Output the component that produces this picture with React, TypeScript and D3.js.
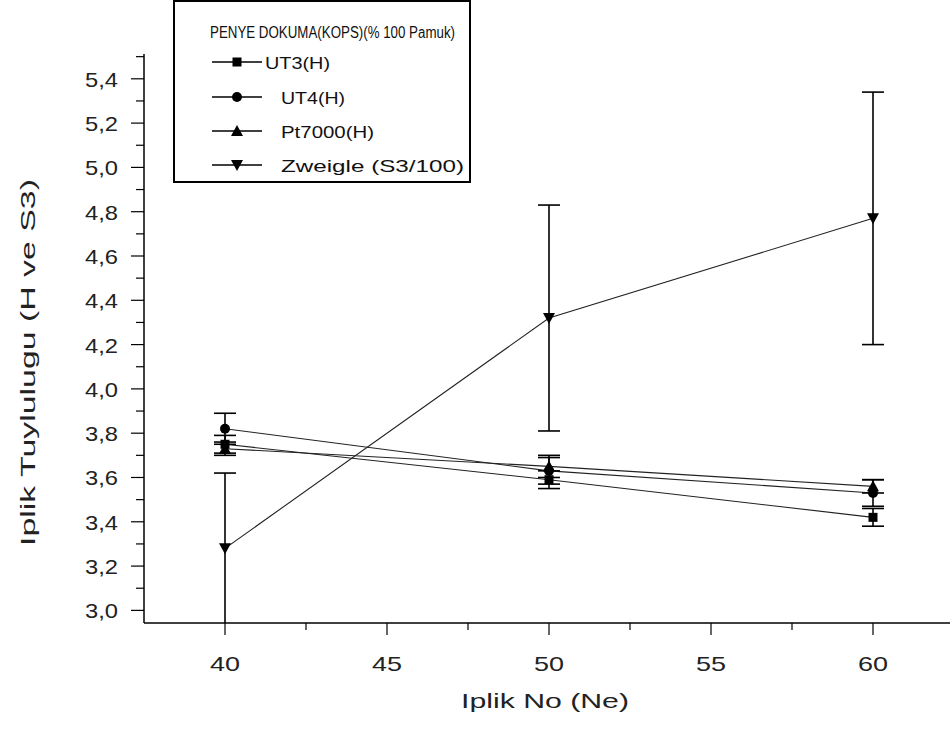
import React, { useEffect, useRef } from 'react';
import * as d3 from 'd3';

// Iplik numaralari (Ne)
const yarnCounts = [40, 50, 60];

const seriesNames = ['UT3(H)', 'UT4(H)', 'Pt7000(H)', 'Zweigle (S3/100)'];
const seriesSymbols = ['square', 'circle', 'triangle', 'triangleDown'];

// ortalama degerler
const ut3Values = [3.75, 3.59, 3.42];
const ut4Values = [3.82, 3.63, 3.53];
const pt7000Values = [3.73, 3.65, 3.56];
const zweigleValues = [3.28, 4.32, 4.77];

// hata cubuklari (+/-)
const ut3Errors = [0.04, 0.04, 0.04];
const ut4Errors = [0.07, 0.06, 0.06];
const pt7000Errors = [0.03, 0.05, 0.03];
const zweigleErrors = [0.34, 0.51, 0.57];

const xTickValues = [40, 45, 50, 55, 60];
const yTickValues = [3.0, 3.2, 3.4, 3.6, 3.8, 4.0, 4.2, 4.4, 4.6, 4.8, 5.0, 5.2, 5.4];

const legendTitle = 'PENYE DOKUMA(KOPS)(% 100 Pamuk)';
const xLabel = 'Iplik No (Ne)';
const yLabel = 'Iplik Tuylulugu (H ve S3)';

const W = 950;
const H = 729;
const FONT = 'Arial, "Liberation Sans", sans-serif';

const symbolPath = (kind: string, cx: number, cy: number) => {
  if (kind === 'square') {
    const s = 4.5;
    return `M${cx - s},${cy - s}H${cx + s}V${cy + s}H${cx - s}Z`;
  }
  if (kind === 'circle') {
    const r = 5;
    return `M${cx - r},${cy}A${r},${r} 0 1,0 ${cx + r},${cy}A${r},${r} 0 1,0 ${cx - r},${cy}Z`;
  }
  if (kind === 'triangle') {
    return `M${cx},${cy - 6}L${cx + 6},${cy + 5}L${cx - 6},${cy + 5}Z`;
  }
  return `M${cx},${cy + 6}L${cx + 6},${cy - 5}L${cx - 6},${cy - 5}Z`;
};

const App: React.FC = () => {
  const ref = useRef<SVGSVGElement>(null);

  useEffect(() => {
    const svg = d3.select(ref.current);
    svg.selectAll('*').remove();

    const x = d3.scaleLinear().domain([37.5, 62.5]).range([144, 954]);
    const y = d3.scaleLinear().domain([2.943, 5.512]).range([623, 54]);

    const fmt = (v: number) => v.toFixed(1).replace('.', ',');

    // eksenler
    const axisColor = '#000';
    svg.append('line')
      .attr('x1', x(37.5)).attr('x2', W)
      .attr('y1', y(2.943)).attr('y2', y(2.943))
      .attr('stroke', axisColor).attr('stroke-width', 1.5);
    svg.append('line')
      .attr('x1', x(37.5)).attr('x2', x(37.5))
      .attr('y1', y(2.943)).attr('y2', y(5.512))
      .attr('stroke', axisColor).attr('stroke-width', 1.5);

    // y tikleri
    const yMinor = d3.range(31, 56, 2).map(v => v / 10);
    svg.selectAll('.ymin').data(yMinor).enter().append('line')
      .attr('x1', x(37.5) - 8).attr('x2', x(37.5))
      .attr('y1', d => y(d)).attr('y2', d => y(d))
      .attr('stroke', axisColor).attr('stroke-width', 1.2);
    svg.selectAll('.ymaj').data(yTickValues).enter().append('line')
      .attr('x1', x(37.5) - 13).attr('x2', x(37.5))
      .attr('y1', d => y(d)).attr('y2', d => y(d))
      .attr('stroke', axisColor).attr('stroke-width', 1.2);
    svg.selectAll('.ylab').data(yTickValues).enter().append('text')
      .attr('x', 85).attr('y', d => y(d) + 8)
      .attr('textLength', 33).attr('lengthAdjust', 'spacingAndGlyphs')
      .style('font-family', FONT).style('font-size', '21px').attr('fill', '#222')
      .text(d => fmt(d));

    // x tikleri
    const xMinor = [42.5, 47.5, 52.5, 57.5];
    svg.selectAll('.xmin').data(xMinor).enter().append('line')
      .attr('x1', d => x(d)).attr('x2', d => x(d))
      .attr('y1', y(2.943)).attr('y2', y(2.943) + 7)
      .attr('stroke', axisColor).attr('stroke-width', 1.2);
    svg.selectAll('.xmaj').data(xTickValues).enter().append('line')
      .attr('x1', d => x(d)).attr('x2', d => x(d))
      .attr('y1', y(2.943)).attr('y2', y(2.943) + 12)
      .attr('stroke', axisColor).attr('stroke-width', 1.2);
    svg.selectAll('.xlab').data(xTickValues).enter().append('text')
      .attr('x', d => x(d) - 15).attr('y', 671)
      .attr('textLength', 30).attr('lengthAdjust', 'spacingAndGlyphs')
      .style('font-family', FONT).style('font-size', '21px').attr('fill', '#222')
      .text(d => String(d));

    // eksen basliklari
    svg.append('text')
      .attr('x', 461).attr('y', 708)
      .attr('textLength', 168).attr('lengthAdjust', 'spacingAndGlyphs')
      .style('font-family', FONT).style('font-size', '21px')
      .attr('fill', '#222')
      .text(xLabel);
    svg.append('text')
      .attr('transform', `translate(35, 546) rotate(-90)`)
      .attr('textLength', 367).attr('lengthAdjust', 'spacingAndGlyphs')
      .style('font-family', FONT).style('font-size', '21px').attr('fill', '#222')
      .text(yLabel);

    const values = [ut3Values, ut4Values, pt7000Values, zweigleValues];
    const errors = [ut3Errors, ut4Errors, pt7000Errors, zweigleErrors];

    const line = d3.line<number>()
      .x((_, i) => x(yarnCounts[i]))
      .y(d => y(d));

    // cizgiler
    values.forEach(vals => {
      svg.append('path')
        .attr('d', line(vals))
        .attr('fill', 'none').attr('stroke', '#222').attr('stroke-width', 1.1);
    });

    // hata cubuklari
    values.forEach((vals, s) => {
      vals.forEach((v, i) => {
        const cx = x(yarnCounts[i]);
        const lo = y(Math.max(v - errors[s][i], 2.943));
        const hi = y(v + errors[s][i]);
        const g = svg.append('g').attr('stroke', '#000').attr('stroke-width', 1.6);
        g.append('line').attr('x1', cx).attr('x2', cx).attr('y1', lo).attr('y2', hi);
        g.append('line').attr('x1', cx - 11).attr('x2', cx + 11).attr('y1', hi).attr('y2', hi);
        if (v - errors[s][i] > 2.943) {
          g.append('line').attr('x1', cx - 11).attr('x2', cx + 11).attr('y1', lo).attr('y2', lo);
        }
      });
    });

    // isaretler
    values.forEach((vals, s) => {
      vals.forEach((v, i) => {
        svg.append('path')
          .attr('d', symbolPath(seriesSymbols[s], x(yarnCounts[i]), y(v)))
          .attr('fill', '#000');
      });
    });

    // lejant
    const lg = svg.append('g');
    lg.append('rect')
      .attr('x', 174).attr('y', 1).attr('width', 296).attr('height', 181)
      .attr('fill', '#fff').attr('stroke', '#000').attr('stroke-width', 2);
    lg.append('text')
      .attr('x', 210).attr('y', 38)
      .attr('textLength', 245).attr('lengthAdjust', 'spacingAndGlyphs')
      .style('font-family', FONT).style('font-size', '16px')
      .attr('fill', '#111')
      .text(legendTitle);
    const rowY = [62, 97, 131, 165];
    const textX = [265, 281, 281, 281];
    const textLen = [65, 64, 93, 183];
    seriesNames.forEach((name, s) => {
      const ly = rowY[s];
      lg.append('line')
        .attr('x1', 212).attr('x2', 262).attr('y1', ly).attr('y2', ly)
        .attr('stroke', '#000').attr('stroke-width', 1.5);
      lg.append('path')
        .attr('d', symbolPath(seriesSymbols[s], 237, ly))
        .attr('fill', '#000');
      lg.append('text')
        .attr('x', textX[s]).attr('y', ly + 7)
        .attr('textLength', textLen[s]).attr('lengthAdjust', 'spacingAndGlyphs')
        .style('font-family', FONT).style('font-size', '17px')
        .attr('fill', '#111')
        .text(name);
    });
  }, []);

  return (
    <div style={{ position: 'absolute', left: 0, top: 0 }}>
      <svg ref={ref} width={W} height={H} style={{ display: 'block', background: '#fff' }} />
    </div>
  );
};

export default App;
